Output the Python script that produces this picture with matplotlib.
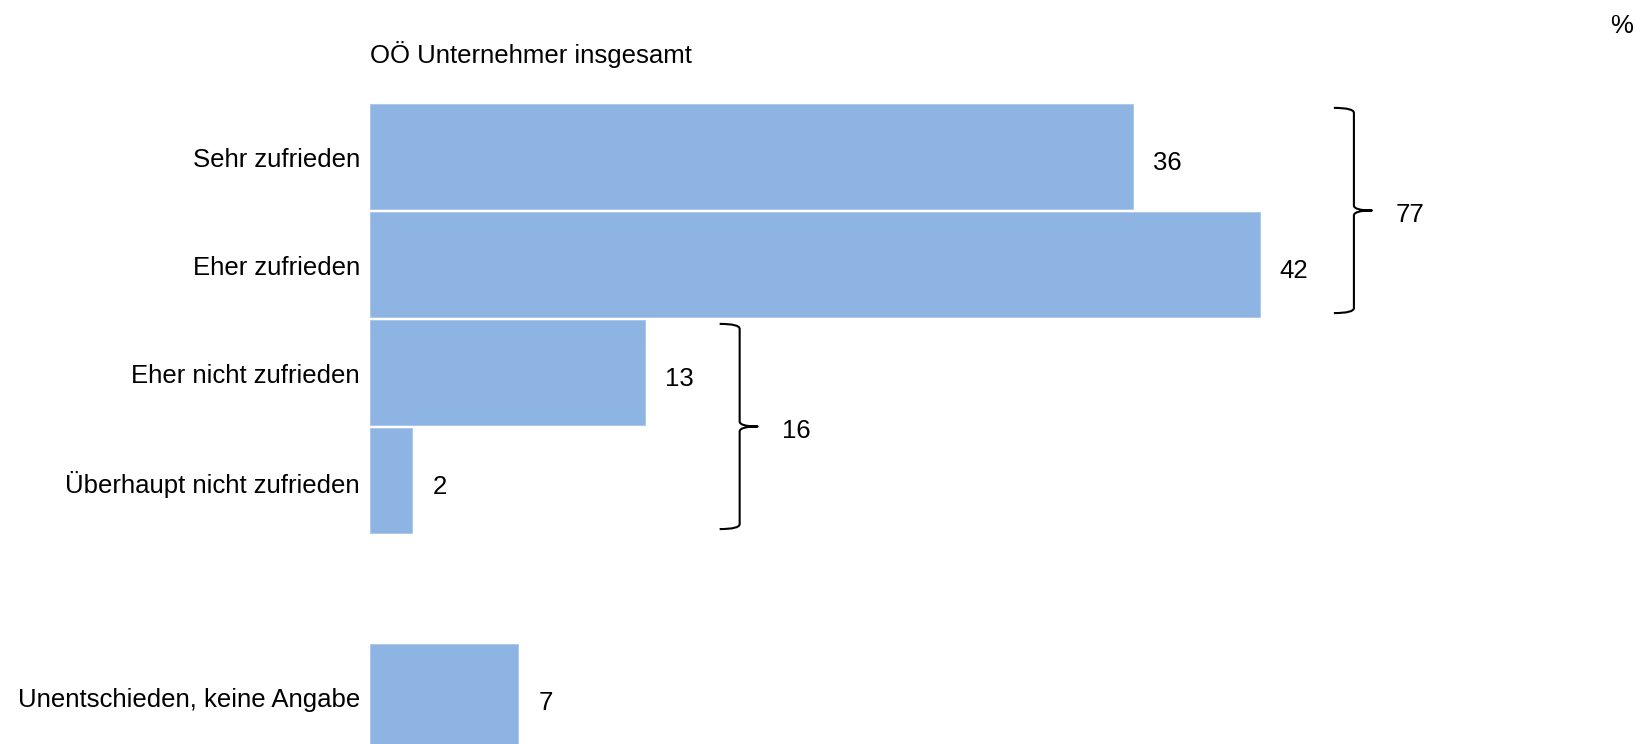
import matplotlib
matplotlib.use("Agg")
import matplotlib.pyplot as plt
from matplotlib.path import Path
from matplotlib.patches import PathPatch
from matplotlib import transforms

categories = ["Sehr zufrieden", "Eher zufrieden", "Eher nicht zufrieden",
              "Überhaupt nicht zufrieden", "Unentschieden, keine Angabe"]
values = [36, 42, 13, 2, 7]
slots = [0, 1, 2, 3, 5]
group_members = [[0, 1], [2, 3]]
group_totals = [77, 16]
title = "OÖ Unternehmer insgesamt"
unit = "%"

plt.rcParams['font.family'] = ['Liberation Sans', 'DejaVu Sans']
FS = 18.5
BAR = '#8EB4E3'

fig = plt.figure(figsize=(16.46, 7.44), dpi=100)
ax = fig.add_axes([0, 0, 1, 1])
ax.axis('off')
ax.set_xlim(-17.47, 60.24)
ax.set_ylim(5.44, -1.449)

ax.barh(slots, values, height=0.972, color=BAR, edgecolor='#A9C6EA', linewidth=0.6)

dy = transforms.offset_copy(ax.transData, fig=fig, x=0, y=-5, units='dots')
lab_tr = transforms.offset_copy(ax.transData, fig=fig, x=-10, y=-4, units='dots')
val_tr = transforms.offset_copy(ax.transData, fig=fig, x=20, y=-7, units='dots')

for s, c, v in zip(slots, categories, values):
    ax.text(0, s, c, transform=lab_tr, ha='right', va='center', fontsize=FS, color='black')
    ax.text(v, s, str(v), transform=val_tr, ha='left', va='center', fontsize=FS, color='black')

# braces
rx = 5 / 21.18
ry = 5 / 108
hook = 20 / 21.18
tip = 18 / 21.18
for members, total in zip(group_members, group_totals):
    bx = max(values[m] for m in members) + 4.45
    ytop = slots[members[0]] - 0.45
    ybot = slots[members[-1]] + 0.45
    ymid = (ytop + ybot) / 2
    verts = [(bx - hook, ytop), (bx, ytop), (bx, ytop + ry),
             (bx, ymid - ry), (bx, ymid), (bx + tip, ymid),
             (bx, ymid), (bx, ymid + ry),
             (bx, ybot - ry), (bx, ybot), (bx - hook, ybot)]
    codes = [Path.MOVETO, Path.CURVE3, Path.CURVE3,
             Path.LINETO, Path.CURVE3, Path.CURVE3,
             Path.CURVE3, Path.CURVE3,
             Path.LINETO, Path.CURVE3, Path.CURVE3]
    ax.add_patch(PathPatch(Path(verts, codes), fill=False, lw=1.5, edgecolor='black',
                           capstyle='butt', joinstyle='round'))
    ax.text(bx + tip + 24 / 21.18, ymid, str(total), transform=dy, ha='left', va='center',
            fontsize=FS, color='black')

fig.text(370 / 1646, 1 - 55 / 744, title, ha='left', va='center', fontsize=FS)
fig.text(1622 / 1646, 1 - 26 / 744, unit, ha='center', va='center', fontsize=FS)

fig.savefig('out.png', dpi=100, facecolor='white')
